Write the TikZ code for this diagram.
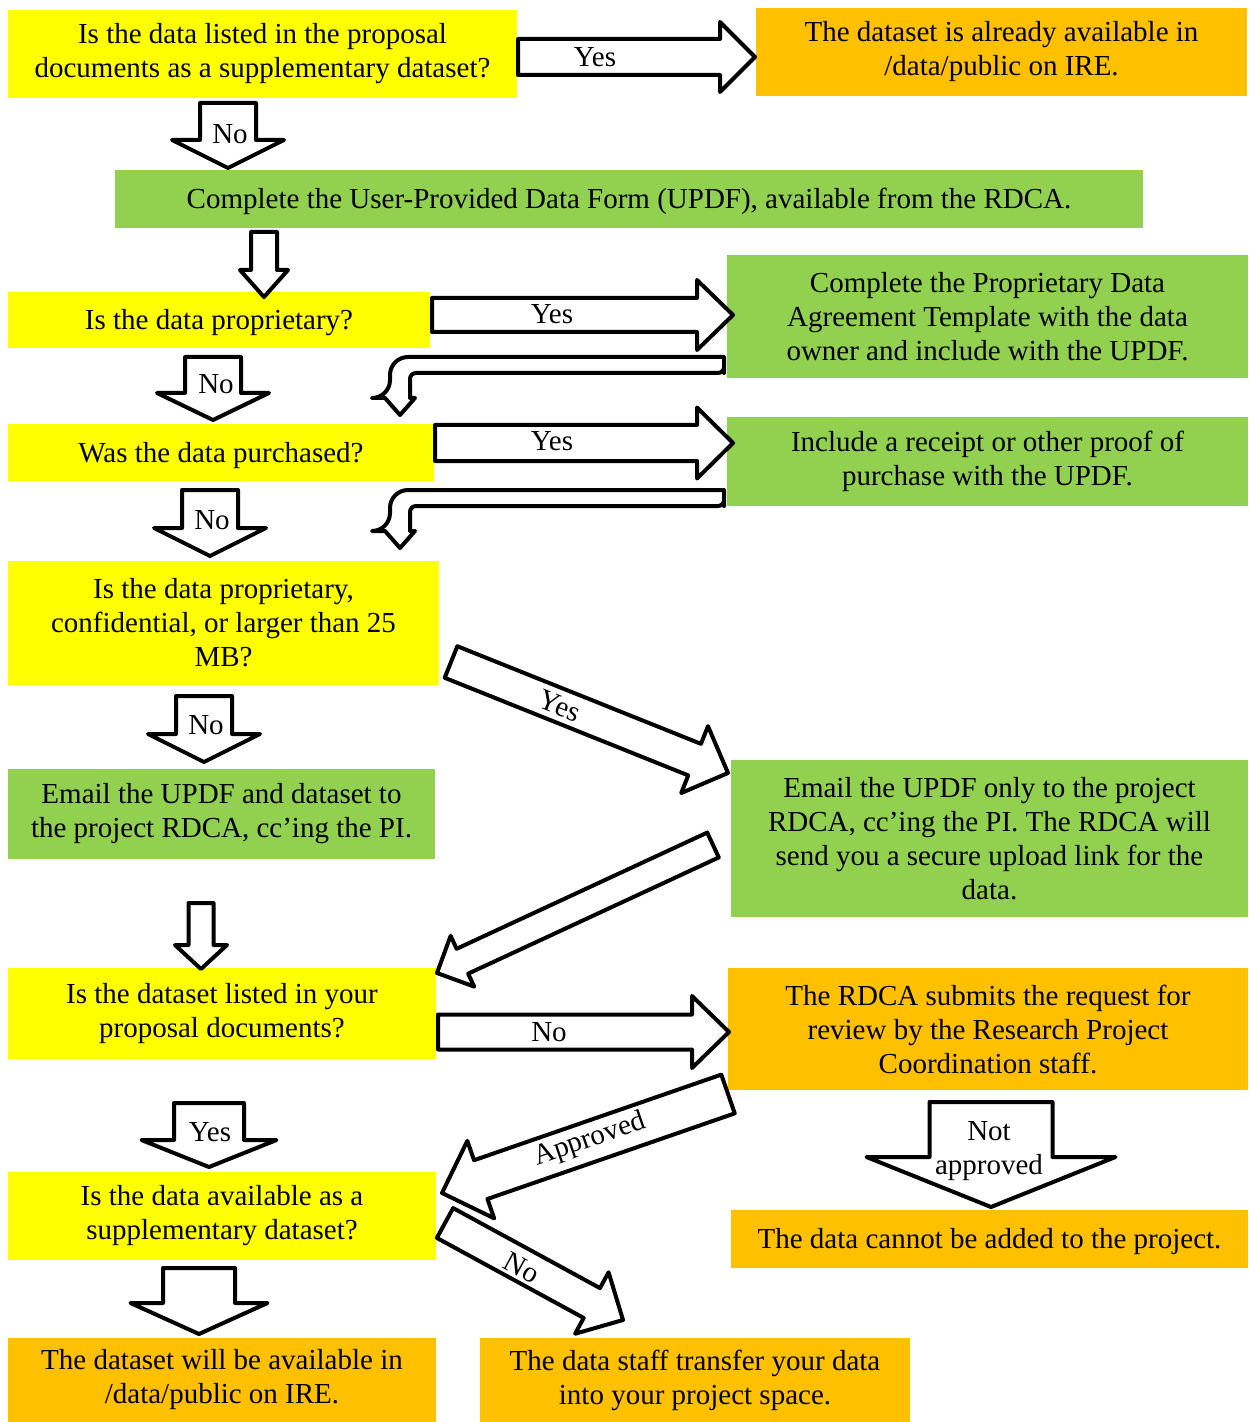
\documentclass[tikz,border=0pt]{standalone}
\usepackage{fontspec}
\setmainfont{Liberation Serif}
\usetikzlibrary{calc}
\definecolor{boxyellow}{RGB}{255,255,0}
\definecolor{boxorange}{RGB}{255,192,0}
\definecolor{boxgreen}{RGB}{146,208,80}

% block arrow: from, to, shaft half width, head half width, head length
\newcommand{\blockarrow}[5]{%
  \draw[barrow] ($(#1)!#3!90:(#2)$) -- ($(#2)!#5!(#1)!#3!90:(#2)$)
    -- ($(#2)!#5!(#1)!#4!90:(#2)$) -- (#2)
    -- ($(#2)!#5!(#1)!#4!-90:(#2)$) -- ($(#2)!#5!(#1)!#3!-90:(#2)$)
    -- ($(#1)!#3!-90:(#2)$) -- cycle;}
% bent arrow: from (right end) to (tip below)
\newcommand{\bentarrow}[2]{%
  \draw[barrow] let \p1=(#1), \p2=(#2) in
    (\x1,\y1-4pt) -- (\x1,\y1+4pt) [rounded corners=9pt] -- (\x2-5pt,\y1+4pt)
    -- (\x2-5pt,\y2+8.5pt) [sharp corners] -- (\x2-7.5pt,\y2+8.5pt) -- (\x2,\y2)
    -- (\x2+7.5pt,\y2+8.5pt) -- (\x2+5pt,\y2+8.5pt) [rounded corners=3pt]
    -- (\x2+5pt,\y1-4pt) -- (\x1,\y1-4pt) [sharp corners] -- cycle;}

\begin{document}
\begin{tikzpicture}[
  x=0.5pt, y=-0.5pt,
  box/.style={rectangle, inner sep=0pt, align=center, font=\fontsize{14.5pt}{17pt}\selectfont,
    execute at begin node={\rule{0pt}{13pt}}},
  qbox/.style={box, fill=boxyellow},
  abox/.style={box, fill=boxorange},
  gbox/.style={box, fill=boxgreen},
  lbl/.style={inner sep=0pt, align=center, font=\fontsize{14.5pt}{17pt}\selectfont},
  barrow/.style={draw=black, fill=white, line width=2pt, line join=round}
]
\useasboundingbox (0,0) rectangle (1248,1422);

% boxes
\node[qbox, minimum width=254.5pt, minimum height=44pt] (q1) at (262.5,54) {Is the data listed in the proposal\\documents as a supplementary dataset?};
\node[abox, minimum width=245.5pt, minimum height=44pt] (a1) at (1001.5,52) {The dataset is already available in\\/data/public on IRE.};
\node[gbox, minimum width=514pt, minimum height=29pt] (g1) at (629,199) {Complete the User-Provided Data Form (UPDF), available from the RDCA.};
\node[qbox, minimum width=211pt, minimum height=28pt] (q2) at (219,320) {Is the data proprietary?};
\node[gbox, minimum width=260.5pt, minimum height=61.5pt] (a2) at (987.5,316.5) {Complete the Proprietary Data\\Agreement Template with the data\\owner and include with the UPDF.};
\node[qbox, minimum width=213pt, minimum height=28.5pt] (q3) at (221,452.5) {Was the data purchased?};
\node[gbox, minimum width=260.5pt, minimum height=44.5pt] (a3) at (987.5,461.5) {Include a receipt or other proof of\\purchase with the UPDF.};
\node[qbox, minimum width=215.5pt, minimum height=62pt] (q4) at (223.5,623) {Is the data proprietary,\\confidential, or larger than 25\\MB?};
\node[gbox, minimum width=213.5pt, minimum height=45pt] (a4) at (221.5,814) {Email the UPDF and dataset to\\the project RDCA, cc’ing the PI.};
\node[gbox, minimum width=258.5pt, minimum height=78.5pt] (a5) at (989.5,838.5) {Email the UPDF only to the project\\RDCA, cc’ing the PI. The RDCA will\\send you a secure upload link for the\\data.};
\node[qbox, minimum width=214pt, minimum height=45.5pt] (q5) at (222,1013.5) {Is the dataset listed in your\\proposal documents?};
\node[abox, minimum width=260pt, minimum height=61pt] (a6) at (988,1029) {The RDCA submits the request for\\review by the Research Project\\Coordination staff.};
\node[qbox, minimum width=214pt, minimum height=44pt] (q6) at (222,1216) {Is the data available as a\\supplementary dataset?};
\node[abox, minimum width=258.5pt, minimum height=29pt] (a7) at (989.5,1239) {The data cannot be added to the project.};
\node[abox, minimum width=214pt, minimum height=42pt] (a8) at (222,1380) {The dataset will be available in\\/data/public on IRE.};
\node[abox, minimum width=215pt, minimum height=42pt] (a9) at (695,1380) {The data staff transfer your data\\into your project space.};

% arrow ends
\coordinate (r1s) at (518,57);   \coordinate (r1e) at (755,57);
\coordinate (d1s) at (228,103);  \coordinate (d1e) at (228,168);
\coordinate (d2s) at (264,232);  \coordinate (d2e) at (264,297);
\coordinate (r2s) at (432,315);  \coordinate (r2e) at (733,315);
\coordinate (b1s) at (724,365);  \coordinate (b1e) at (400,415);
\coordinate (d3s) at (213,357);  \coordinate (d3e) at (213,420);
\coordinate (r3s) at (435,443);  \coordinate (r3e) at (733,443);
\coordinate (b2s) at (724,498);  \coordinate (b2e) at (400,548);
\coordinate (d4s) at (210,490);  \coordinate (d4e) at (210,556);
\coordinate (s1s) at (451,662);  \coordinate (s1e) at (728,773);
\coordinate (d5s) at (204,696);  \coordinate (d5e) at (204,762);
\coordinate (d6s) at (201,903);  \coordinate (d6e) at (201,969);
\coordinate (s2s) at (713,845);  \coordinate (s2e) at (437,973);
\coordinate (r4s) at (438,1032); \coordinate (r4e) at (729,1032);
\coordinate (d7s) at (209,1103); \coordinate (d7e) at (209,1167);
\coordinate (d8s) at (991,1102); \coordinate (d8e) at (991,1207);
\coordinate (s3s) at (728,1094); \coordinate (s3e) at (442,1193);
\coordinate (s4s) at (445,1223); \coordinate (s4e) at (623,1320);
\coordinate (d9s) at (199,1268); \coordinate (d9e) at (199,1334);

% block arrows
\blockarrow{r1s}{r1e}{9pt}{17.5pt}{17.5pt}
\blockarrow{d1s}{d1e}{14pt}{28pt}{14pt}
\blockarrow{d2s}{d2e}{6.5pt}{12pt}{13.5pt}
\blockarrow{r2s}{r2e}{8.5pt}{17.5pt}{18pt}
\bentarrow{b1s}{b1e}
\blockarrow{d3s}{d3e}{14pt}{28pt}{13.5pt}
\blockarrow{r3s}{r3e}{9pt}{17.75pt}{18pt}
\bentarrow{b2s}{b2e}
\blockarrow{d4s}{d4e}{14pt}{28pt}{14pt}
\blockarrow{s1s}{s1e}{8.5pt}{18pt}{18pt}
\blockarrow{d5s}{d5e}{14pt}{28pt}{14pt}
\blockarrow{d6s}{d6e}{6.25pt}{13pt}{12pt}
\blockarrow{s2s}{s2e}{6.85pt}{14pt}{14pt}
\blockarrow{r4s}{r4e}{8.75pt}{18pt}{18.5pt}
\blockarrow{d7s}{d7e}{17.5pt}{33.75pt}{13.5pt}
\blockarrow{d8s}{d8e}{30.75pt}{62.25pt}{25pt}
\blockarrow{s3s}{s3e}{10.25pt}{20.5pt}{20.5pt}
\blockarrow{s4s}{s4e}{8.5pt}{17.5pt}{17.75pt}
\blockarrow{d9s}{d9e}{18pt}{34.25pt}{15.5pt}

% arrow labels
\node[lbl] (t1) at (595,57) {Yes};
\node[lbl] (t2) at (230,134) {No};
\node[lbl] (t3) at (552,314) {Yes};
\node[lbl] (t4) at (216,384) {No};
\node[lbl] (t5) at (552,441) {Yes};
\node[lbl] (t6) at (212,520) {No};
\node[lbl, rotate=-21.8] (t7) at (560,706) {Yes};
\node[lbl] (t8) at (206,725) {No};
\node[lbl] (t9) at (549,1032) {No};
\node[lbl] (t10) at (210,1132) {Yes};
\node[lbl] (t11) at (989,1151) {Not\\approved};
\node[lbl, rotate=19.1] (t12) at (590,1140) {Approved};
\node[lbl, rotate=-28.6] (t13) at (522,1268) {No};

\end{tikzpicture}
\end{document}
